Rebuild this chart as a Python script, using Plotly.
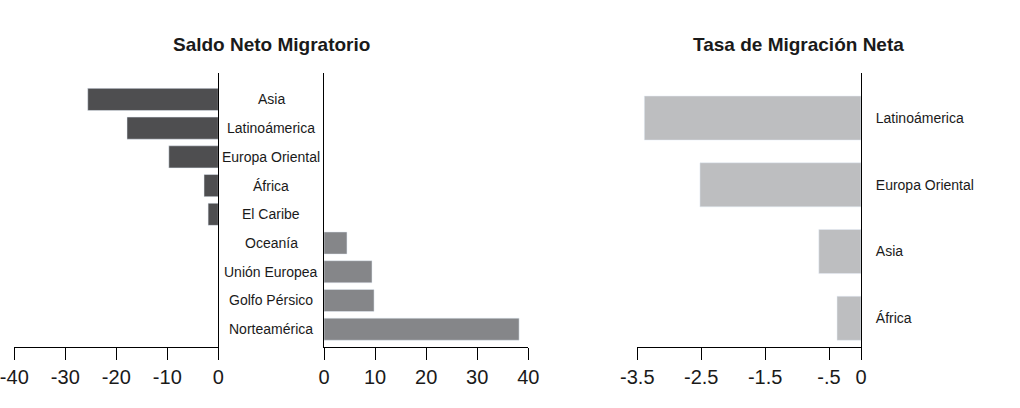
import plotly.graph_objects as go

W, H = 1020, 408

# ---- data ----
regiones_saldo = ["Asia", "Latinoámerica", "Europa Oriental", "África", "El Caribe",
                  "Oceanía", "Unión Europea", "Golfo Pérsico", "Norteamérica"]
saldo_neto = [-25.6, -17.9, -9.7, -2.8, -2.0, 4.5, 9.4, 9.8, 38.2]

regiones_tasa = ["Latinoámerica", "Europa Oriental", "Asia", "África"]
tasa_neta = [-3.39, -2.52, -0.66, -0.375]

ticks_saldo_neg = [-40, -30, -20, -10, 0]
ticks_saldo_neg_text = ["-40", "-30", "-20", "-10", "0"]
ticks_saldo_pos = [0, 10, 20, 30, 40]
ticks_tasa = [-3.5, -2.5, -1.5, -0.5, 0]
ticks_tasa_text = ["-3.5", "-2.5", "-1.5", "-.5", "0"]

titulo_izq = "Saldo Neto Migratorio"
titulo_der = "Tasa de Migración Neta"

# ---- colours / fonts ----
c_dark = "#4e4e50"
c_mid = "#858689"
c_light = "#bdbec0"
tick_font = dict(family="Liberation Sans Narrow, Arial Narrow, Liberation Sans, Arial, sans-serif", size=20, color="#1a1a1a")
lab_font = dict(family="Liberation Sans, Arial, sans-serif", size=14, color="#1a1a1a")

neg_vals = [v if v < 0 else None for v in saldo_neto]
pos_vals = [v if v > 0 else None for v in saldo_neto]

fig = go.Figure()
fig.add_trace(go.Bar(y=regiones_saldo, x=neg_vals, orientation="h", marker_color=c_dark,
                     width=0.77, xaxis="x", yaxis="y", showlegend=False))
fig.add_trace(go.Bar(y=regiones_saldo, x=pos_vals, orientation="h", marker_color=c_mid,
                     width=0.77, xaxis="x2", yaxis="y2", showlegend=False))
fig.add_trace(go.Bar(y=regiones_tasa, x=tasa_neta, orientation="h", marker_color=c_light,
                     width=0.66, xaxis="x3", yaxis="y3", showlegend=False))

def px(x):
    return x / W

ydom = [1 - 347 / H, 1 - 73 / H]

xcommon = dict(showline=True, linecolor="black", linewidth=1, ticks="outside", ticklen=12,
               tickcolor="black", showgrid=False, zeroline=False, tickfont=tick_font,
               fixedrange=True, automargin=False, ticklabeloverflow="allow")
ycommon = dict(showline=True, linecolor="black", linewidth=1, showgrid=False, zeroline=False,
               domain=ydom, type="category", categoryorder="array", automargin=False,
               fixedrange=True)

n = len(regiones_saldo)
fig.update_layout(
    width=W, height=H, margin=dict(l=0, r=0, t=0, b=0, autoexpand=False),
    paper_bgcolor="white", plot_bgcolor="white",
    bargap=0,
    xaxis=dict(domain=[px(14.3), px(218.3)], range=[-40, 0], tickvals=ticks_saldo_neg,
               ticktext=ticks_saldo_neg_text, anchor="y", **xcommon),
    xaxis2=dict(domain=[px(324), px(528.3)], range=[0, 40], tickvals=ticks_saldo_pos, anchor="y2", **xcommon),
    xaxis3=dict(domain=[px(637.3), px(861)], range=[-3.5, 0], tickvals=ticks_tasa, ticktext=ticks_tasa_text,
                anchor="y3", **xcommon),
    yaxis=dict(anchor="x", side="right", categoryarray=regiones_saldo, range=[n - 1 + 0.62, -0.92],
               showticklabels=False, ticks="", **ycommon),
    yaxis2=dict(anchor="x2", side="left", categoryarray=regiones_saldo, range=[n - 1 + 0.62, -0.92],
                showticklabels=False, ticks="", **ycommon),
    yaxis3=dict(anchor="x3", side="right", categoryarray=regiones_tasa, range=[len(regiones_tasa) - 1 + 0.43, -0.675],
                showticklabels=True, ticks="", ticklabelstandoff=11, tickfont=lab_font, **ycommon),
)

# category labels between the two left panels
for r in regiones_saldo:
    fig.add_annotation(x=px(271), xref="paper", y=r, yref="y", text=r, showarrow=False,
                       xanchor="center", yanchor="middle", font=lab_font)

title_font = dict(family="Liberation Sans, Arial, sans-serif", size=19, color="#1a1a1a")
fig.add_annotation(x=px(271), y=1 - 44 / H, xref="paper", yref="paper", text="<b>%s</b>" % titulo_izq,
                   showarrow=False, xanchor="center", yanchor="middle", font=title_font)
fig.add_annotation(x=px(798), y=1 - 44 / H, xref="paper", yref="paper", text="<b>%s</b>" % titulo_der,
                   showarrow=False, xanchor="center", yanchor="middle", font=title_font)

fig.write_html("out.html", config={"displayModeBar": False, "staticPlot": True},
               post_script="document.body.style.margin='0';")
